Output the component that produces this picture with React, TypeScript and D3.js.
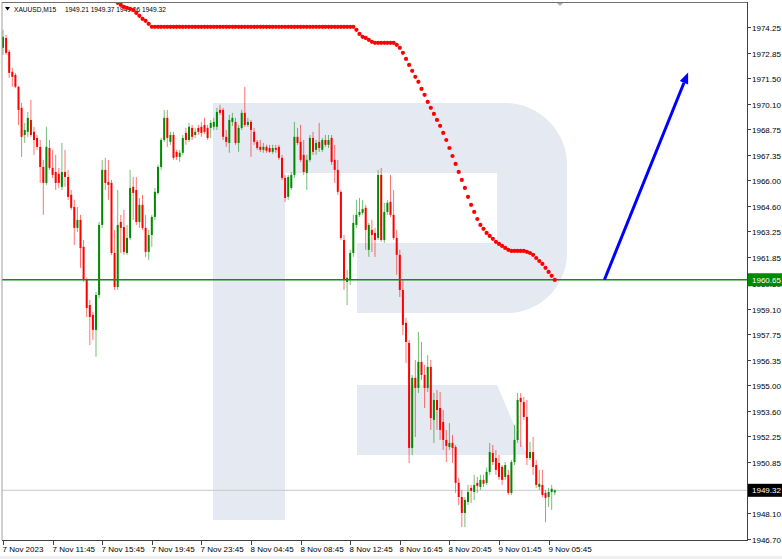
import React from 'react';
import * as d3 from 'd3';

const SYMBOL = 'XAUUSD,M15';
const HEADER_OHLC = ['1949.21', '1949.37', '1949.06', '1949.32'];

const OPEN = [
  1973.13, 1973.66, 1972.91, 1971.84, 1971.67, 1971.03, 1969.90, 1968.44, 1968.61, 1969.25,
  1968.61, 1968.28, 1967.80, 1966.72, 1965.86, 1967.74, 1966.67, 1966.45, 1966.35, 1965.65,
  1966.45, 1966.18, 1965.22, 1964.57, 1963.44, 1963.87, 1962.42, 1960.64, 1959.29, 1958.76,
  1957.95, 1959.83, 1963.60, 1966.56, 1965.91, 1965.86, 1962.09, 1960.26, 1963.76, 1963.49,
  1962.09, 1962.90, 1965.65, 1965.48, 1963.76, 1964.68, 1963.44, 1962.15, 1963.06, 1964.03,
  1965.32, 1966.72, 1968.17, 1969.36, 1968.07, 1968.44, 1967.53, 1967.26, 1967.48, 1968.55,
  1968.17, 1968.82, 1968.44, 1968.82, 1968.88, 1968.98, 1968.82, 1968.82, 1968.88, 1968.88,
  1969.79, 1969.79, 1968.34, 1968.01, 1969.14, 1969.14, 1968.01, 1968.82, 1969.63, 1968.98,
  1969.14, 1968.61, 1968.07, 1967.80, 1967.64, 1967.80, 1967.74, 1967.53, 1967.74, 1967.80,
  1967.21, 1966.13, 1965.11, 1965.59, 1966.29, 1968.34, 1968.07, 1967.37, 1966.40, 1967.10,
  1968.28, 1967.64, 1968.07, 1967.64, 1968.17, 1967.91, 1968.28, 1967.10, 1966.56, 1965.38,
  1962.79, 1960.53, 1960.64, 1962.09, 1963.60, 1964.14, 1964.25, 1964.52, 1962.26, 1963.33,
  1963.17, 1962.90, 1966.29, 1962.79, 1964.30, 1964.84, 1964.14, 1962.90, 1961.99, 1960.10,
  1958.33, 1957.25, 1951.60, 1955.37, 1954.83, 1956.23, 1955.53, 1954.83, 1955.96, 1953.11,
  1954.18, 1953.75, 1953.00, 1952.03, 1951.65, 1951.87, 1951.65, 1949.72, 1948.96, 1948.10,
  1948.69, 1949.45, 1949.23, 1949.72, 1949.50, 1949.88, 1949.72, 1950.31, 1951.33, 1951.06,
  1950.79, 1950.58, 1950.04, 1950.15, 1949.18, 1950.84, 1952.03, 1954.29, 1954.07, 1953.27,
  1951.06, 1951.38, 1950.68, 1949.50, 1949.61, 1949.18, 1948.96, 1949.23, 1949.21,
];

const HIGH = [
  1974.10, 1973.83, 1973.02, 1972.05, 1971.78, 1971.08, 1970.17, 1969.09, 1969.68, 1970.33,
  1968.88, 1968.44, 1968.17, 1967.10, 1968.88, 1968.17, 1967.64, 1967.37, 1966.67, 1968.01,
  1967.64, 1966.56, 1965.48, 1964.95, 1964.57, 1964.14, 1962.79, 1960.75, 1959.56, 1958.92,
  1959.99, 1963.76, 1967.10, 1967.21, 1967.10, 1966.02, 1963.33, 1965.48, 1964.14, 1964.41,
  1963.60, 1966.56, 1966.18, 1966.18, 1965.05, 1965.22, 1964.14, 1963.33, 1964.14, 1965.59,
  1966.83, 1968.28, 1969.79, 1969.79, 1968.61, 1968.61, 1967.64, 1967.64, 1968.44, 1968.82,
  1969.09, 1968.98, 1968.82, 1968.98, 1969.14, 1969.36, 1968.98, 1969.25, 1969.36, 1969.90,
  1970.06, 1969.90, 1968.71, 1969.52, 1969.63, 1969.36, 1968.98, 1969.79, 1971.03, 1969.36,
  1969.25, 1968.82, 1968.17, 1968.17, 1968.01, 1967.91, 1967.91, 1967.91, 1967.91, 1967.91,
  1967.37, 1966.29, 1966.29, 1966.45, 1969.14, 1968.82, 1968.98, 1968.17, 1967.37, 1968.44,
  1968.61, 1968.17, 1969.09, 1968.28, 1968.44, 1968.44, 1968.44, 1967.91, 1967.10, 1965.48,
  1963.06, 1961.18, 1962.26, 1964.14, 1964.95, 1965.05, 1964.95, 1964.68, 1963.71, 1963.87,
  1963.44, 1966.56, 1966.67, 1964.79, 1964.95, 1966.29, 1965.48, 1963.33, 1962.26, 1960.64,
  1958.60, 1957.41, 1955.53, 1956.33, 1957.84, 1957.30, 1956.07, 1956.60, 1956.33, 1954.56,
  1954.72, 1954.61, 1953.64, 1952.57, 1952.94, 1952.30, 1951.76, 1949.99, 1949.34, 1948.96,
  1949.61, 1949.61, 1950.15, 1950.04, 1950.15, 1950.15, 1950.53, 1951.87, 1951.76, 1951.49,
  1951.22, 1950.68, 1950.84, 1950.42, 1950.95, 1952.84, 1954.56, 1954.56, 1954.34, 1954.18,
  1951.92, 1952.19, 1950.95, 1950.42, 1950.42, 1949.34, 1949.45, 1949.61, 1949.37,
];

const LOW = [
  1972.75, 1972.75, 1971.51, 1971.03, 1970.97, 1968.98, 1967.26, 1968.01, 1968.34, 1968.34,
  1967.37, 1967.64, 1965.86, 1964.14, 1965.75, 1966.56, 1966.13, 1965.48, 1965.59, 1965.48,
  1965.65, 1964.95, 1964.41, 1962.52, 1963.22, 1961.29, 1960.53, 1958.65, 1957.14, 1957.41,
  1956.50, 1959.67, 1963.44, 1965.48, 1964.95, 1961.99, 1960.10, 1960.10, 1962.09, 1961.99,
  1961.99, 1962.79, 1963.87, 1963.60, 1963.44, 1963.33, 1961.88, 1961.72, 1962.42, 1963.87,
  1965.22, 1966.56, 1968.07, 1967.80, 1967.91, 1967.10, 1967.10, 1966.99, 1967.37, 1967.91,
  1968.07, 1968.17, 1968.28, 1968.44, 1968.34, 1968.50, 1968.17, 1968.28, 1968.71, 1968.71,
  1969.52, 1968.17, 1967.80, 1967.48, 1968.93, 1967.91, 1967.53, 1968.71, 1968.88, 1968.88,
  1967.26, 1967.91, 1967.64, 1967.53, 1967.48, 1967.48, 1967.48, 1967.42, 1967.48, 1967.10,
  1966.02, 1964.84, 1964.95, 1965.48, 1966.13, 1967.91, 1966.99, 1966.29, 1965.48, 1966.99,
  1967.37, 1967.37, 1967.53, 1967.53, 1967.80, 1967.74, 1966.83, 1965.86, 1965.22, 1962.79,
  1960.10, 1959.29, 1960.37, 1961.88, 1963.44, 1964.03, 1964.14, 1962.26, 1961.88, 1962.15,
  1961.88, 1962.79, 1962.69, 1962.63, 1964.14, 1964.03, 1962.79, 1960.91, 1959.72, 1957.68,
  1956.17, 1950.79, 1951.22, 1952.19, 1954.56, 1955.26, 1953.75, 1954.61, 1952.57, 1951.87,
  1952.57, 1952.03, 1951.49, 1950.84, 1951.49, 1950.79, 1949.18, 1948.53, 1947.34, 1947.34,
  1948.53, 1948.64, 1948.80, 1949.18, 1949.34, 1949.50, 1949.61, 1950.15, 1950.68, 1950.15,
  1949.88, 1949.61, 1949.88, 1949.07, 1949.07, 1950.68, 1951.87, 1951.65, 1953.11, 1950.68,
  1950.95, 1950.15, 1949.45, 1949.34, 1948.96, 1947.61, 1948.43, 1948.26, 1949.06,
];

const CLOSE = [
  1973.72, 1972.86, 1971.78, 1971.57, 1971.03, 1969.79, 1968.34, 1968.71, 1969.36, 1968.44,
  1968.17, 1967.80, 1966.72, 1965.86, 1967.80, 1966.67, 1966.29, 1965.86, 1965.86, 1966.45,
  1966.18, 1965.11, 1964.52, 1963.44, 1963.87, 1962.36, 1960.64, 1959.13, 1958.65, 1957.95,
  1959.83, 1963.60, 1966.56, 1965.86, 1965.75, 1962.09, 1960.26, 1963.60, 1963.44, 1962.15,
  1962.90, 1965.59, 1965.32, 1963.76, 1964.68, 1963.44, 1962.15, 1963.06, 1964.03, 1965.38,
  1966.72, 1968.17, 1969.36, 1968.28, 1968.44, 1967.21, 1967.26, 1967.48, 1968.28, 1968.17,
  1968.88, 1968.34, 1968.61, 1968.61, 1968.55, 1968.61, 1968.28, 1969.09, 1969.14, 1969.68,
  1969.63, 1968.34, 1968.07, 1969.25, 1969.36, 1968.01, 1968.82, 1969.63, 1968.98, 1969.14,
  1968.71, 1968.07, 1967.74, 1967.64, 1967.80, 1967.59, 1967.53, 1967.74, 1967.64, 1967.21,
  1966.13, 1965.05, 1966.18, 1966.29, 1968.34, 1968.01, 1967.10, 1966.45, 1967.10, 1968.28,
  1967.53, 1968.01, 1967.74, 1968.17, 1967.91, 1968.17, 1966.99, 1966.56, 1965.38, 1962.90,
  1960.64, 1960.75, 1962.09, 1963.71, 1964.14, 1964.30, 1964.46, 1963.33, 1963.60, 1963.06,
  1962.79, 1966.29, 1962.79, 1964.30, 1964.79, 1964.14, 1962.90, 1961.99, 1960.10, 1958.22,
  1957.30, 1951.60, 1955.37, 1954.83, 1956.23, 1955.53, 1954.83, 1955.96, 1953.21, 1954.18,
  1953.64, 1952.57, 1952.03, 1951.71, 1951.87, 1951.60, 1949.72, 1948.96, 1948.10, 1948.80,
  1949.23, 1949.29, 1949.61, 1949.56, 1949.88, 1949.67, 1950.31, 1951.38, 1950.84, 1950.42,
  1950.04, 1949.88, 1950.68, 1949.18, 1950.84, 1952.03, 1954.18, 1954.07, 1953.27, 1951.06,
  1951.38, 1950.58, 1949.61, 1949.67, 1949.07, 1948.91, 1949.23, 1949.40, 1949.32,
];

// moving average (dotted red), first value belongs to bar MA_START
const MA_START = 37;
const MA = [
  1975.55, 1975.44, 1975.33, 1975.28, 1975.23, 1975.17, 1975.01, 1974.85, 1974.69, 1974.58, 1974.42,
  1974.26, 1974.26, 1974.26, 1974.26, 1974.26, 1974.26, 1974.26, 1974.26, 1974.26, 1974.26, 1974.26,
  1974.26, 1974.26, 1974.26, 1974.26, 1974.26, 1974.26, 1974.26, 1974.26, 1974.26, 1974.26, 1974.26,
  1974.26, 1974.26, 1974.26, 1974.26, 1974.26, 1974.26, 1974.26, 1974.26, 1974.26, 1974.26, 1974.26,
  1974.26, 1974.26, 1974.26, 1974.26, 1974.26, 1974.26, 1974.26, 1974.26, 1974.26, 1974.26, 1974.26,
  1974.26, 1974.26, 1974.26, 1974.26, 1974.26, 1974.26, 1974.26, 1974.26, 1974.26, 1974.26, 1974.26,
  1974.26, 1974.26, 1974.26, 1974.26, 1974.26, 1974.26, 1974.26, 1974.26, 1974.26, 1974.26, 1974.26,
  1974.10, 1973.88, 1973.72, 1973.66, 1973.56, 1973.45, 1973.40,
  1973.40, 1973.40, 1973.40, 1973.40, 1973.40, 1973.40,
  1973.29, 1973.13, 1972.86, 1972.53, 1972.21, 1971.89, 1971.57, 1971.30, 1970.92, 1970.60,
  1970.22, 1969.90, 1969.57, 1969.25, 1968.93, 1968.55, 1968.17, 1967.74, 1967.31, 1966.88,
  1966.45, 1966.02, 1965.59, 1965.11, 1964.68, 1964.30, 1963.92, 1963.60, 1963.39, 1963.17,
  1963.01, 1962.85, 1962.69, 1962.58, 1962.47, 1962.36, 1962.26, 1962.20, 1962.20, 1962.20,
  1962.20, 1962.20, 1962.15, 1962.09, 1961.99, 1961.82, 1961.66, 1961.50, 1961.29, 1961.07,
  1960.86, 1960.64,
];

const PRICE_TICKS = [
  '1974.25', '1972.85', '1971.50', '1970.10', '1968.75', '1967.35', '1966.00', '1964.60', '1963.25', '1961.85',
  '1960.50', '1959.10', '1957.75', '1956.35', '1955.00', '1953.60', '1952.25', '1950.85', '1949.50', '1948.10', '1946.70',
];
const TIME_TICKS = [
  '7 Nov 2023', '7 Nov 11:45', '7 Nov 15:45', '7 Nov 19:45', '7 Nov 23:45', '8 Nov 04:45',
  '8 Nov 08:45', '8 Nov 12:45', '8 Nov 16:45', '8 Nov 20:45', '9 Nov 01:45', '9 Nov 05:45',
];
const TIME_TICK_BARS = [0, 16, 32, 48, 64, 80, 96, 112, 128, 144, 160, 176];

const LEVEL = 1960.65;
const LAST = 1949.32;
const ARROW_BARS = [194, 221];
const ARROW_PRICES = [1960.65, 1971.8];

const W = 782;
const H = 559;
const L = 2;
const R = 747;
const T = 2;
const B = 540;
const FONT = '"Liberation Sans", Arial, sans-serif';

export default function App() {
  const x = d3.scaleLinear().domain([0, 176]).range([3, 548.6]);
  const y = d3.scaleLinear().domain([1946.7, 1974.25]).range([539, 27]);

  const candles = OPEN.map((o, i) => {
    const c = CLOSE[i];
    const hi = Math.max(HIGH[i], o, c);
    const lo = Math.min(LOW[i], o, c);
    const up = c >= o;
    const col = up ? '#008a00' : '#ff0000';
    const cx = x(i);
    const top = y(Math.max(o, c));
    const bot = y(Math.min(o, c));
    return (
      <g key={i}>
        <line x1={cx} x2={cx} y1={y(hi)} y2={y(lo)} stroke={col} strokeWidth={1} strokeOpacity={0.55} />
        <rect x={cx - 1} y={top} width={2} height={Math.max(1, bot - top)} fill={col} />
      </g>
    );
  });

  const dots = MA.map((v, k) => (
    <circle key={k} cx={x(MA_START + k)} cy={y(v)} r={2.1} fill="#ff0000" />
  ));

  const ax0 = x(ARROW_BARS[0]);
  const ay0 = y(ARROW_PRICES[0]);
  const ax1 = x(ARROW_BARS[1]);
  const ay1 = y(ARROW_PRICES[1]);
  const ang = Math.atan2(ay1 - ay0, ax1 - ax0);
  const hl = 11;
  const hw = 4.5;
  const bx = ax1 - hl * Math.cos(ang);
  const by = ay1 - hl * Math.sin(ang);
  const px = -Math.sin(ang);
  const py = Math.cos(ang);
  const head = `M${ax1},${ay1} L${bx + hw * px},${by + hw * py} L${bx - hw * px},${by - hw * py} Z`;

  const levelY = y(LEVEL);
  const lastY = y(LAST);

  return (
    <svg width={W} height={H} style={{ position: 'absolute', left: 0, top: 0, background: '#fff' }}>
      <defs>
        <clipPath id="plot">
          <rect x={L} y={T} width={R - L} height={B - T} />
        </clipPath>
      </defs>
      <rect x={0} y={0} width={W} height={H} fill="#ffffff" />
      <g clipPath="url(#plot)">
        {/* watermark */}
        <path
          d="M213,103 H505 A62,62 0 0 1 567,165 V253 A60,60 0 0 1 507,313 H357 V243 H497 V173 H285 V520 H213 Z"
          fill="#e4e9f2"
        />
        <path d="M357,385 H497 L527,455 H357 Z" fill="#e4e9f2" />

        <line x1={L} x2={R} y1={lastY} y2={lastY} stroke="#c8c8c8" strokeWidth={1} />
        {candles}
        <line x1={L} x2={R} y1={levelY} y2={levelY} stroke="#108c10" strokeWidth={1.6} />
        <g fontFamily={FONT} fontSize={6.6} fill="#000">
          <path d="M5,7 L10,7 L7.5,10.5 Z" fill="#000" />
          <text x={14} y={11.5}>{SYMBOL}</text>
          <text x={65} y={11.5}>{HEADER_OHLC.join(' ')}</text>
        </g>
        {dots}
        <line x1={ax0} y1={ay0} x2={bx} y2={by} stroke="#0000ff" strokeWidth={3} />
        <path d={head} fill="#0000ff" />
        <path d="M556,2 L564,2 L560,6 Z" fill="#b0b0b0" />
      </g>

      {/* frame */}
      <line x1={L} x2={L} y1={T} y2={B} stroke="#a0a0a0" strokeWidth={1} />
      <line x1={L} x2={R} y1={T + 0.5} y2={T + 0.5} stroke="#707070" strokeWidth={1} />
      <line x1={R + 0.5} x2={R + 0.5} y1={T} y2={B} stroke="#404040" strokeWidth={1} />
      <line x1={L} x2={R + 1} y1={B + 0.5} y2={B + 0.5} stroke="#404040" strokeWidth={1} />

      {/* price axis */}
      <g fontFamily={FONT} fontSize={8} fill="#000">
        {PRICE_TICKS.map((t) => {
          const v = parseFloat(t);
          const ty = Math.round(y(v)) + 0.5;
          return (
            <g key={t}>
              <line x1={R + 1} x2={R + 4} y1={ty} y2={ty} stroke="#404040" />
              <text x={R + 5} y={ty + 3}>{t}</text>
            </g>
          );
        })}
      </g>
      <rect x={R + 1} y={levelY - 6.5} width={34} height={13} fill="#008a00" />
      <text x={R + 5} y={levelY + 3} fontFamily={FONT} fontSize={8} fill="#fff">{LEVEL.toFixed(2)}</text>
      <rect x={R + 1} y={lastY - 6.5} width={34} height={13} fill="#000" />
      <text x={R + 5} y={lastY + 3} fontFamily={FONT} fontSize={8} fill="#fff">{LAST.toFixed(2)}</text>

      {/* time axis */}
      <g fontFamily={FONT} fontSize={8} fill="#000">
        {TIME_TICKS.map((t, k) => {
          const tx = Math.round(x(TIME_TICK_BARS[k])) + 0.5;
          return (
            <g key={t}>
              <line x1={tx} x2={tx} y1={B + 1} y2={B + 5} stroke="#404040" />
              <text x={tx - 1} y={552}>{t}</text>
            </g>
          );
        })}
      </g>
      <rect x={0} y={556} width={W} height={3} fill="#efefef" />
    </svg>
  );
}
